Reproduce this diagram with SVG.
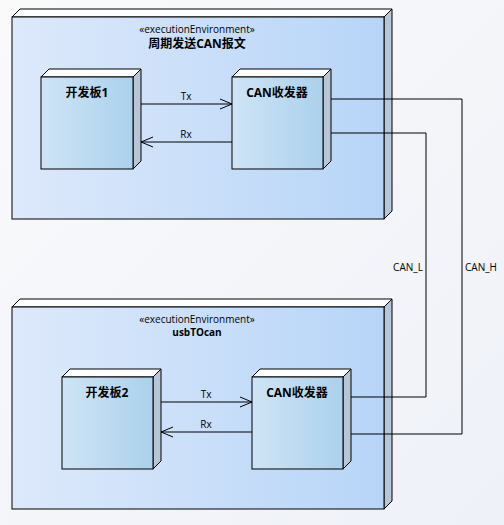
<svg xmlns="http://www.w3.org/2000/svg" width="504" height="525" viewBox="0 0 504 525">
<defs>
<linearGradient id="bg" x1="0" y1="0" x2="1" y2="1"><stop offset="0" stop-color="#fafafb"/><stop offset="1" stop-color="#eef1f8"/></linearGradient>
<linearGradient id="env" x1="0" y1="0" x2="1" y2="0"><stop offset="0" stop-color="#dde9fb"/><stop offset="1" stop-color="#b7d5f8"/></linearGradient>
<linearGradient id="box" x1="0" y1="0" x2="1" y2="0"><stop offset="0" stop-color="#cfe4f6"/><stop offset="1" stop-color="#abd1ec"/></linearGradient>
<marker id="open" viewBox="0 0 14 12" refX="13" refY="6" markerWidth="14" markerHeight="12" markerUnits="userSpaceOnUse" orient="auto"><path d="M1,1 L13,6 L1,11" fill="none" stroke="#000" stroke-width="1"/></marker>
<style>
.face{stroke:#000;stroke-width:1}
.top{fill:#fdfeff}
.side{fill:#b7c5d6}
.env{fill:url(#env)}
.box{fill:url(#box)}
.st{font-family:"Open Sans","Noto Sans CJK SC",sans-serif;font-size:10px;fill:#000;text-anchor:middle}
.ttl{font-family:"Open Sans","Noto Sans CJK SC",sans-serif;font-size:12px;font-weight:bold;fill:#000;text-anchor:middle}
.lbl{font-family:"Open Sans","Noto Sans CJK SC",sans-serif;font-size:10px;fill:#000;text-anchor:middle}
.ln{fill:none;stroke:#000;stroke-width:1}
</style>
</defs>
<rect width="504" height="525" fill="url(#bg)"/>
<g id="env1">
<polygon class="face top" points="12,17 20,9 392,9 384,17"/>
<polygon class="face side" points="384,17 392,9 392,211 384,219"/>
<rect class="face env" x="12" y="17" width="372" height="202"/>
<text class="st" x="197" y="33">«executionEnvironment»</text>
<text class="ttl" x="197" y="48">周期发送CAN报文</text>
</g>
<g id="board1">
<polygon class="face top" points="41,77 49,69 141,69 133,77"/>
<polygon class="face side" points="133,77 141,69 141,161 133,169"/>
<rect class="face box" x="41" y="77" width="92" height="92"/>
<text class="ttl" x="87" y="97">开发板1</text>
</g>
<g id="can1">
<polygon class="face top" points="232,77 240,69 331,69 323,77"/>
<polygon class="face side" points="323,77 331,69 331,161 323,169"/>
<rect class="face box" x="232" y="77" width="91" height="92"/>
<text class="ttl" x="277" y="97">CAN收发器</text>
</g>
<g id="env2">
<polygon class="face top" points="12,307 20,299 392,299 384,307"/>
<polygon class="face side" points="384,307 392,299 392,501 384,509"/>
<rect class="face env" x="12" y="307" width="372" height="202"/>
<text class="st" x="197" y="323">«executionEnvironment»</text>
<text class="ttl" x="197" y="336" style="font-size:10px">usbTOcan</text>
</g>
<g id="board2">
<polygon class="face top" points="62,377 70,369 161,369 153,377"/>
<polygon class="face side" points="153,377 161,369 161,461 153,469"/>
<rect class="face box" x="62" y="377" width="91" height="92"/>
<text class="ttl" x="107" y="397">开发板2</text>
</g>
<g id="can2">
<polygon class="face top" points="252,377 260,369 351,369 343,377"/>
<polygon class="face side" points="343,377 351,369 351,461 343,469"/>
<rect class="face box" x="252" y="377" width="91" height="92"/>
<text class="ttl" x="297" y="397">CAN收发器</text>
</g>
<g id="connectors">
<line class="ln" x1="141" y1="104" x2="232" y2="104" marker-end="url(#open)"/>
<text class="lbl" x="186" y="100">Tx</text>
<line class="ln" x1="232" y1="142" x2="141" y2="142" marker-end="url(#open)"/>
<text class="lbl" x="186" y="138">Rx</text>
<line class="ln" x1="161" y1="402" x2="252" y2="402" marker-end="url(#open)"/>
<text class="lbl" x="206" y="398">Tx</text>
<line class="ln" x1="252" y1="432" x2="161" y2="432" marker-end="url(#open)"/>
<text class="lbl" x="206" y="428">Rx</text>
<polyline class="ln" points="331,99 462,99 462,434 351,434"/>
<polyline class="ln" points="331,133 426,133 426,397 351,397"/>
<text class="lbl" x="408" y="271">CAN_L</text>
<text class="lbl" x="481" y="271">CAN_H</text>
</g>
</svg>
